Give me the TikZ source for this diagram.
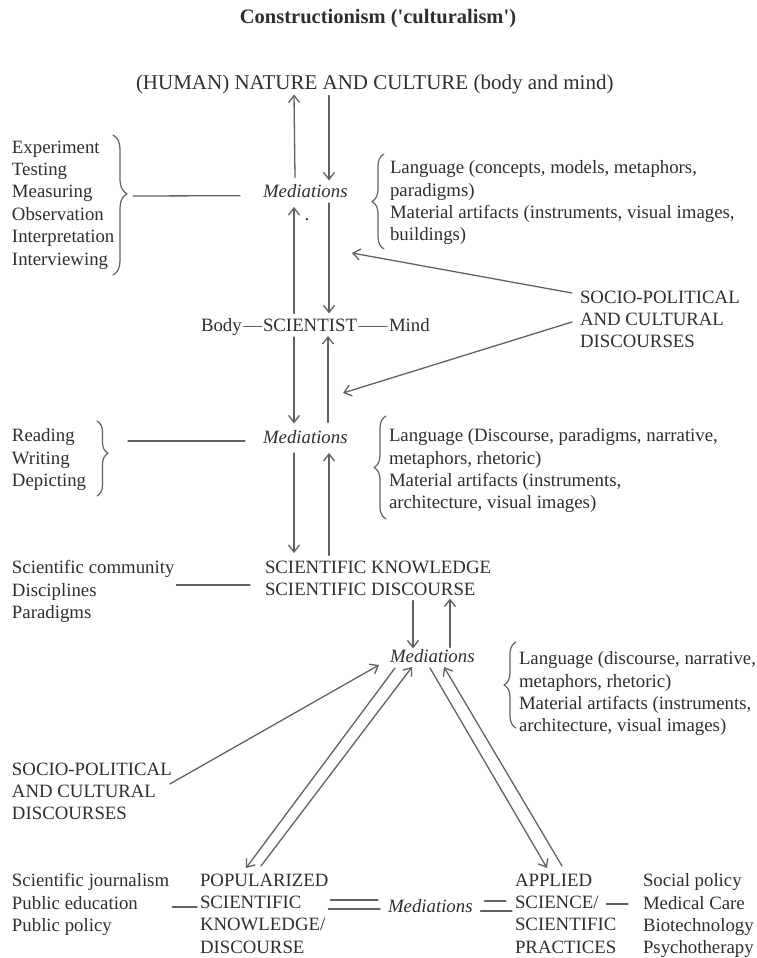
\documentclass[tikz,border=0pt]{standalone}
\usepackage{fontspec}
\setmainfont{Liberation Serif}
\usetikzlibrary{arrows.meta,decorations.pathreplacing}

\begin{document}
\begin{tikzpicture}[x=1pt, y=-1pt, line cap=round, line join=round]

% --- Global TikZ Styles ---
\tikzset{
    txt/.style={
        inner sep=0pt,
        outer sep=0pt,
        text=black!82,
        font=\fontsize{18.8}{22.4}\selectfont
    },
    word/.style={
        txt,
        anchor=base west,
        text height=12.6pt,
        text depth=4pt
    },
    medi/.style={
        word,
        font=\fontsize{18.8}{22.4}\selectfont\itshape
    },
    block/.style={
        txt,
        anchor=north west,
        align=left
    },
    flow/.style={
        -{Straight Barb[length=7pt,width=11pt]},
        draw=black!62,
        line width=1.3pt
    },
    link/.style={
        draw=black!62,
        line width=1.3pt
    },
    curly/.style={
        draw=black!62,
        line width=1.2pt,
        decorate,
        decoration={brace, amplitude=#1}
    },
    curly/.default=12pt
}

\useasboundingbox (0,0) rectangle (757,958);

% afstand van eerste basislijn tot bovenkant blok
\pgfmathsetmacro{\capTop}{12.4}

% --- Titel ---
\node[txt, anchor=base, font=\fontsize{20.5}{24}\selectfont\bfseries] (title)
    at (378,24) {Constructionism (\textquotesingle culturalism\textquotesingle)};

% =========================================================================
% --- Bovenste deel: natuur, mediaties, wetenschapper ---
% =========================================================================
\node[word, font=\fontsize{21}{24}\selectfont, text height=14pt, text depth=4.5pt] (nature)
    at (136,89) {(HUMAN) NATURE AND CULTURE (body and mind)};
\node[medi] (med1) at (263,197) {Mediations};
\node[txt, anchor=base] (dot) at (307,220) {.};

\node[block] (probe) at (12,{153-\capTop})
    {Experiment\\Testing\\Measuring\\Observation\\Interpretation\\Interviewing};
\node[block] (lang1) at (390,{173-\capTop})
    {Language (concepts, models, metaphors,\\paradigms)\\Material artifacts (instruments, visual images,\\buildings)};

\node[word] (body) at (201,331) {Body};
\node[word] (sci) at (263,331) {SCIENTIST};
\node[word] (mind) at (389,331) {Mind};

\node[block] (socio1) at (580,{303-\capTop})
    {SOCIO-POLITICAL\\AND CULTURAL\\DISCOURSES};

% --- Accolades ---
\draw[curly=14pt, decoration={aspect=0.42}] (113,135) -- (113,275);
\draw[curly=12pt] (384,249) -- (384,154);
\coordinate (tip1) at (127,196);

% --- Pijlen natuur <-> mediaties <-> wetenschapper ---
\draw[flow] ([xshift=32pt,yshift=7pt]med1.north west) -- ([xshift=158pt,yshift=-1pt]nature.south west);
\draw[flow] ([xshift=193pt,yshift=-2pt]nature.south west) -- ([xshift=66pt,yshift=4pt]med1.north west);
\draw[flow] ([xshift=31pt,yshift=5pt]sci.north west) -- ([xshift=31pt,yshift=-6pt]med1.south west);
\draw[flow] ([xshift=66pt,yshift=-2pt]med1.south west) -- ([xshift=66pt,yshift=5pt]sci.north west);

\draw[link] ([xshift=6pt]tip1) -- ([xshift=-23pt,yshift=-3pt]med1.west);
\draw[link] ([xshift=2pt]body.east) -- ([xshift=-1pt]sci.west);
\draw[link] ([xshift=2pt]sci.east) -- ([xshift=-2pt]mind.west);

% --- Discoursen rechts ---
\coordinate (hit1) at (352,253);
\coordinate (hit2) at (343,393);
\draw[flow] ([xshift=-8pt,yshift=-2.4pt]socio1.north west) -- (hit1);
\draw[flow] ([xshift=-8pt,yshift=-31.4pt]socio1.north west) -- (hit2);

% =========================================================================
% --- Midden: tweede mediaties en wetenschappelijke kennis ---
% =========================================================================
\node[medi] (med2) at (263,443) {Mediations};
\node[block] (write) at (12,{441-\capTop}) {Reading\\Writing\\Depicting};
\node[block] (lang2) at (389,{441-\capTop})
    {Language (Discourse, paradigms, narrative,\\metaphors, rhetoric)\\Material artifacts (instruments,\\architecture, visual images)};

\node[block] (sk) at (265,{573-\capTop}) {SCIENTIFIC KNOWLEDGE\\SCIENTIFIC DISCOURSE};
\node[block] (comm) at (12,{573-\capTop}) {Scientific community\\Disciplines\\Paradigms};

\draw[curly=11pt, decoration={aspect=0.43}] (97,421) -- (97,496);
\draw[curly=12pt] (386,519) -- (386,416);
\coordinate (tip3) at (108,441);

\draw[flow] ([xshift=31pt,yshift=-2pt]sci.south west) -- ([xshift=31pt,yshift=7pt]med2.north west);
\draw[flow] ([xshift=65pt,yshift=8pt]med2.north west) -- ([xshift=65pt,yshift=-1pt]sci.south west);
\draw[flow] ([xshift=31pt,yshift=-6pt]med2.south west) -- ([xshift=29pt,yshift=7.6pt]sk.north west);
\draw[flow] ([xshift=64pt,yshift=5.3pt]sk.north west) -- ([xshift=66pt,yshift=-6pt]med2.south west);

\draw[link] ([xshift=20pt]tip3) -- ([xshift=-18pt,yshift=-2.3pt]med2.west);
\draw[link] ([xshift=2pt,yshift=-24.4pt]comm.north east) -- ([xshift=-15pt,yshift=-24.4pt]sk.north west);

% =========================================================================
% --- Derde mediaties en vertakking ---
% =========================================================================
\node[medi] (med3) at (390,662) {Mediations};
\node[block] (lang3) at (519,{664-\capTop})
    {Language (discourse, narrative,\\metaphors, rhetoric)\\Material artifacts (instruments,\\architecture, visual images)};
\node[block] (socio2) at (12,{775-\capTop})
    {SOCIO-POLITICAL\\AND CULTURAL\\DISCOURSES};

\draw[curly=12pt] (516,728) -- (516,642);

\draw[flow] ([xshift=148pt,yshift=-5pt]sk.south west) -- ([xshift=23pt,yshift=1pt]med3.north west);
\draw[flow] ([xshift=60pt,yshift=2pt]med3.north west) -- ([xshift=185pt,yshift=-3pt]sk.south west);
\draw[flow] ([xshift=-2pt,yshift=-21.4pt]socio2.north east) -- ([xshift=-11pt,yshift=1pt]med3.south west);

% --- Onderste rij ---
\node[block] (jour) at (12,{886-\capTop}) {Scientific journalism\\Public education\\Public policy};
\node[block] (pop) at (200,{886-\capTop}) {POPULARIZED\\SCIENTIFIC\\KNOWLEDGE/\\DISCOURSE};
\node[medi] (med4) at (388,912) {Mediations};
\node[block] (app) at (515,{886-\capTop}) {APPLIED\\SCIENCE/\\SCIENTIFIC\\PRACTICES};
\node[block] (socpol) at (643,{886-\capTop}) {Social policy\\Medical Care\\Biotechnology\\Psychotherapy};

% --- Dubbele pijlen naar beide takken ---
\draw[flow] ([xshift=5pt,yshift=-2pt]med3.south west) -- ([xshift=46pt,yshift=5.6pt]pop.north west);
\draw[flow] ([xshift=61pt,yshift=7.6pt]pop.north west) -- ([xshift=22pt,yshift=-1pt]med3.south west);
\draw[flow] ([xshift=40pt,yshift=-2pt]med3.south west) -- ([xshift=32pt,yshift=5.6pt]app.north west);
\draw[flow] ([xshift=47pt,yshift=7.6pt]app.north west) -- ([xshift=54pt,yshift=-1pt]med3.south west);

% --- Verbindingsstreepjes onderaan ---
\draw[link] ([xshift=3pt,yshift=-33.4pt]jour.north east) -- ([xshift=-3pt,yshift=-33.4pt]pop.north west);
\draw[link] ([xshift=2pt,yshift=-26.4pt]pop.north east) -- ([xshift=-10pt,yshift=-26.4pt]pop.north east -| med4.west);
\draw[link] ([yshift=-35.4pt]pop.north east) -- ([xshift=-8pt,yshift=-35.4pt]pop.north east -| med4.west);
\draw[link] ([xshift=12pt,yshift=-27.4pt]app.north east -| med4.east) -- ([xshift=-9pt,yshift=-27.4pt]app.north west);
\draw[link] ([xshift=8pt,yshift=-37.4pt]app.north east -| med4.east) -- ([xshift=-3pt,yshift=-37.4pt]app.north west);
\draw[link] ([xshift=-10pt,yshift=-30.4pt]app.north east) -- ([xshift=-15pt,yshift=-30.4pt]socpol.north west);

\end{tikzpicture}
\end{document}
